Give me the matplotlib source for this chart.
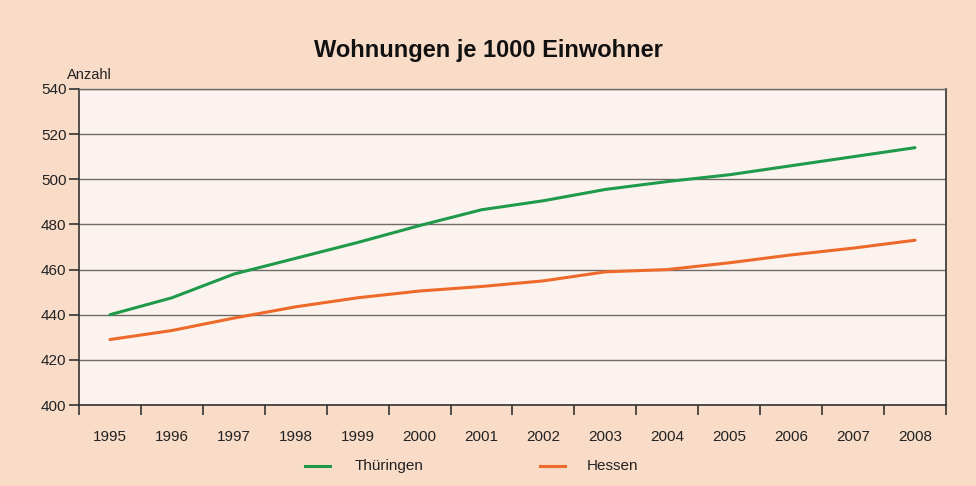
import matplotlib
matplotlib.use("Agg")
import matplotlib.pyplot as plt
import numpy as np
from matplotlib.lines import Line2D

years = ["1995", "1996", "1997", "1998", "1999", "2000", "2001",
         "2002", "2003", "2004", "2005", "2006", "2007", "2008"]
thueringen = [440, 447.5, 458, 465, 472, 479.5, 486.5, 490.5, 495.5, 499, 502, 506, 510, 514]
hessen = [429, 433, 438.5, 443.5, 447.5, 450.5, 452.5, 455, 459, 460, 463, 466.5, 469.5, 473]
yticks = [400, 420, 440, 460, 480, 500, 520, 540]

bg = "#F9DCC8"
plot_bg = "#FDF3EE"
green = "#1E9A4A"
orange = "#EE6A2A"
grid_c = "#6E6A68"

plt.rcParams['font.family'] = ['Liberation Sans', 'DejaVu Sans']

fig = plt.figure(figsize=(9.76, 4.86), dpi=100, facecolor=bg)
ax = fig.add_axes([79/976, 1 - 405/486, (946 - 79)/976, (405 - 89)/486])
ax.set_facecolor(plot_bg)

x = np.arange(len(years))
ax.plot(x, thueringen, color=green, lw=2.2, solid_capstyle='round', solid_joinstyle='round')
ax.plot(x, hessen, color=orange, lw=2.2, solid_capstyle='round', solid_joinstyle='round')

ax.set_xlim(-0.5, len(years) - 0.5)
ax.set_ylim(400, 540)
ax.set_yticks(yticks)
ax.set_yticklabels([str(v) for v in yticks], fontsize=11, color="#222222")
ax.yaxis.grid(True, color=grid_c, lw=1.0)
ax.set_axisbelow(True)

ax.set_xticks(x)
ax.set_xticklabels(years, fontsize=11, color="#222222")
ax.set_xticks(np.arange(len(years) + 1) - 0.5, minor=True)
ax.tick_params(axis='x', which='major', length=0, pad=18)
ax.tick_params(axis='x', which='minor', length=7, width=1.2, color="#333333", direction='out')
ax.tick_params(axis='y', length=7, width=1.2, color="#333333", direction='out', pad=2)

for s in ['left', 'bottom', 'right']:
    ax.spines[s].set_color("#333333")
    ax.spines[s].set_linewidth(1.2)
ax.spines['top'].set_color(grid_c)
ax.spines['top'].set_linewidth(1.0)

fig.text(0.5, 1 - 50/486, "Wohnungen je 1000 Einwohner", ha='center', va='center',
         fontsize=17, fontweight='bold', color="#111111")
fig.text(67/976, 1 - 75/486, "Anzahl", ha='left', va='center', fontsize=10.5, color="#222222")

lx = [(305, 330, 355, "Thüringen", green), (540, 565, 587, "Hessen", orange)]
for x0, x1, tx, lab, c in lx:
    fig.add_artist(Line2D([x0/976, x1/976], [1 - 466/486, 1 - 466/486], color=c, lw=2.2,
                          transform=fig.transFigure))
    fig.text(tx/976, 1 - 466/486, lab, ha='left', va='center', fontsize=11, color="#222222")

fig.savefig("out.png", dpi=100, facecolor=bg)
